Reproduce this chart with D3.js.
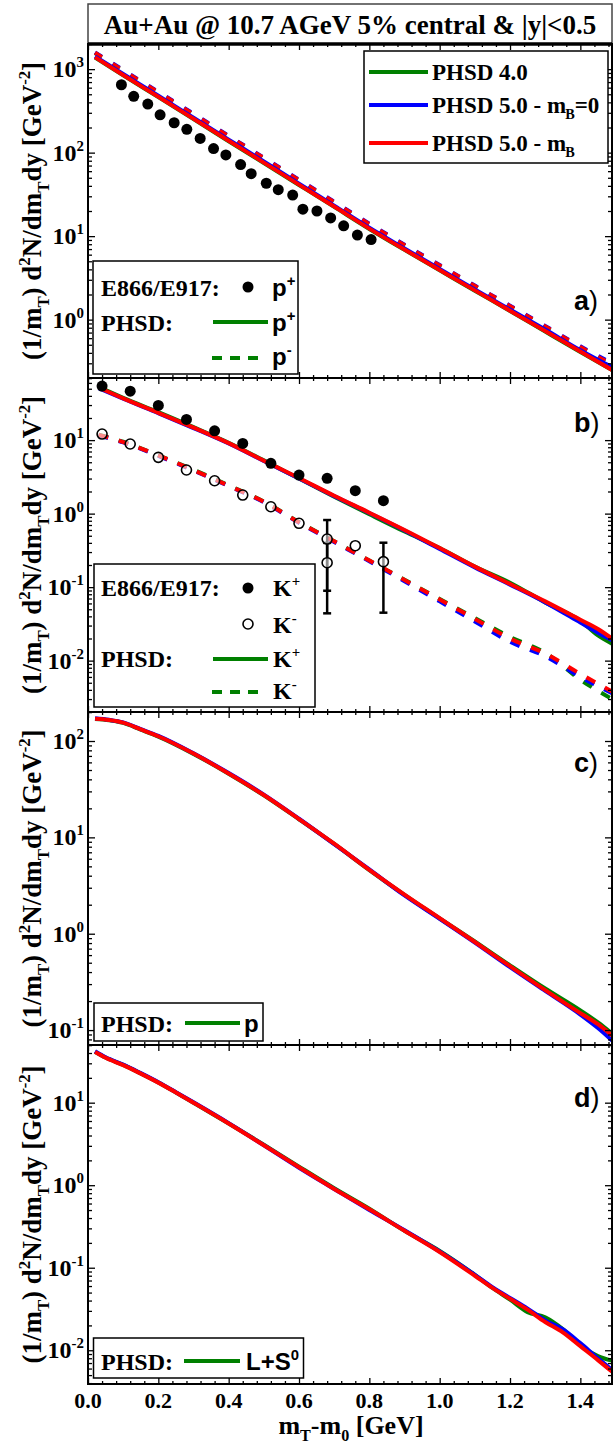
<!DOCTYPE html>
<html>
<head>
<meta charset="utf-8">
<script src="https://cdn.jsdelivr.net/npm/d3@7"></script>
<style>
  body { margin: 0; background: #fff; }
  svg { display: block; }
  text { font-family: "Liberation Serif", "Times New Roman", serif; font-weight: bold; fill: #000; }
  text.sans { font-family: "Liberation Sans", Arial, sans-serif; }
</style>
</head>
<body>
<svg id="chart" width="614" height="1444"></svg>
<script>
// ---------- x axis ----------
const xMajorTicks = [0, 0.2, 0.4, 0.6, 0.8, 1.0, 1.2, 1.4];
const xTickLabels = ["0.0", "0.2", "0.4", "0.6", "0.8", "1.0", "1.2", "1.4"];

// ---------- (a) protons ----------
const protonDataMt = [0.095, 0.130, 0.170, 0.205, 0.245, 0.281, 0.319, 0.357, 0.392, 0.434,
                      0.464, 0.507, 0.541, 0.582, 0.611, 0.651, 0.690, 0.727, 0.766, 0.805];
const protonData   = [650, 472, 382, 284, 228, 190, 148, 112, 94, 72,
                      56, 43, 36, 31, 21, 20, 16.5, 13.3, 10.3, 9.1];
const protonMt     = [0.02, 0.1, 0.2, 0.3, 0.4, 0.5, 0.6, 0.7, 0.8, 0.9, 1.0, 1.1, 1.2, 1.3, 1.4, 1.49];
const protonPHSD4  = [1380, 845, 462, 252, 137, 75, 41, 22.4, 12.2, 6.85, 3.9, 2.22, 1.27, 0.72, 0.41, 0.25];
const protonPHSD5m0 = [1420, 875, 480, 262, 143, 78.5, 42.5, 23.2, 12.6, 7.1, 4.05, 2.3, 1.32, 0.76, 0.43, 0.27];
const protonPHSD5mB = [1390, 850, 467, 255, 139, 76, 41.4, 22.6, 12.3, 6.9, 3.93, 2.24, 1.28, 0.73, 0.415, 0.25];
const pbarPHSD4    = [1560, 955, 525, 286, 156, 85, 46.5, 25.3, 13.8, 7.75, 4.4, 2.5, 1.44, 0.82, 0.46, 0.285];
const pbarPHSD5m0  = [1590, 975, 535, 292, 159, 87, 47.5, 25.9, 14.1, 7.9, 4.5, 2.56, 1.47, 0.84, 0.48, 0.3];
const pbarPHSD5mB  = [1570, 960, 528, 288, 157, 86, 46.8, 25.5, 13.9, 7.8, 4.44, 2.53, 1.45, 0.83, 0.47, 0.29];

// ---------- (b) kaons ----------
const kPlusDataMt  = [0.04, 0.12, 0.20, 0.28, 0.36, 0.44, 0.52, 0.60, 0.68, 0.76, 0.84];
const kPlusData    = [54.4, 46.4, 29.6, 19.1, 13.4, 9.0, 4.83, 3.35, 3.02, 2.05, 1.50];
const kMinusDataMt = [0.04, 0.12, 0.20, 0.28, 0.36, 0.44, 0.52, 0.60, 0.68, 0.68, 0.76, 0.84];
const kMinusData   = [12.1, 8.85, 5.83, 3.92, 2.80, 1.79, 1.24, 0.738, 0.451, 0.215, 0.366, 0.222];
const kMinusErrLow = [null, null, null, null, null, null, null, null, 0.0893, 0.044, null, 0.0449];
const kMinusErrHigh = [null, null, null, null, null, null, null, null, 0.818, 0.40, null, 0.402];
const kPlusMt      = [0.03, 0.1, 0.2, 0.3, 0.4, 0.5, 0.6, 0.7, 0.8, 0.9, 1.0, 1.1, 1.2, 1.3, 1.4, 1.45, 1.49];
const kPlusPHSD4   = [53, 37.5, 24, 15, 9.2, 5.3, 3.0, 1.7, 0.98, 0.57, 0.34, 0.19, 0.115, 0.062, 0.035, 0.022, 0.017];
const kPlusPHSD5m0 = [51, 36.5, 23.2, 14.6, 9.0, 5.2, 3.0, 1.73, 1.02, 0.59, 0.33, 0.185, 0.108, 0.062, 0.033, 0.024, 0.019];
const kPlusPHSD5mB = [52, 37, 23.5, 14.8, 9.1, 5.25, 3.05, 1.75, 1.03, 0.6, 0.34, 0.19, 0.11, 0.064, 0.036, 0.027, 0.02];
const kMinusMt     = [0.03, 0.1, 0.2, 0.3, 0.4, 0.5, 0.6, 0.7, 0.8, 0.9, 1.0, 1.1, 1.2, 1.3, 1.4, 1.49];
const kMinusPHSD4  = [11.9, 9.5, 6.2, 3.95, 2.42, 1.46, 0.77, 0.42, 0.23, 0.126, 0.069, 0.038, 0.021, 0.0128, 0.0055, 0.003];
const kMinusPHSD5m0 = [11.6, 9.3, 6.1, 3.85, 2.37, 1.43, 0.75, 0.41, 0.225, 0.12, 0.064, 0.034, 0.018, 0.0115, 0.006, 0.0036];
const kMinusPHSD5mB = [11.8, 9.4, 6.2, 3.9, 2.4, 1.45, 0.76, 0.42, 0.23, 0.125, 0.068, 0.037, 0.02, 0.0125, 0.0066, 0.0038];

// ---------- (c) protons, PHSD only ----------
const pMt       = [0.02, 0.06, 0.1, 0.15, 0.2, 0.3, 0.4, 0.5, 0.6, 0.7, 0.8, 0.9, 1.0, 1.1, 1.2, 1.3, 1.4, 1.45, 1.49];
const pPHSD4    = [169, 164, 154, 131, 111, 73.5, 45.8, 27.3, 15.4, 8.55, 4.58, 2.53, 1.44, 0.83, 0.47, 0.27, 0.16, 0.12, 0.092];
const pPHSD5m0  = [172, 166, 156, 133, 113, 74.5, 46.5, 27.8, 15.6, 8.5, 4.65, 2.5, 1.43, 0.81, 0.45, 0.255, 0.145, 0.105, 0.078];
const pPHSD5mB  = [170, 165, 155, 132, 112, 74, 46, 27.5, 15.5, 8.6, 4.6, 2.55, 1.45, 0.82, 0.46, 0.26, 0.15, 0.115, 0.088];

// ---------- (d) Lambda + Sigma0, PHSD only ----------
const lamMt      = [0.02, 0.05, 0.1, 0.15, 0.2, 0.25, 0.3, 0.4, 0.5, 0.6, 0.7, 0.8, 0.9, 1.0, 1.1, 1.15, 1.2, 1.25, 1.3, 1.35, 1.4, 1.45, 1.49];
const lamPHSD4   = [41.5, 35.2, 28.7, 22.6, 17.6, 13.3, 10, 5.6, 3.1, 1.68, 0.92, 0.52, 0.28, 0.16, 0.082, 0.057, 0.041, 0.029, 0.025, 0.018, 0.0115, 0.0085, 0.0075];
const lamPHSD5m0 = [42, 35.5, 29, 22.8, 17.7, 13.4, 10.1, 5.65, 3.05, 1.63, 0.9, 0.5, 0.285, 0.157, 0.082, 0.058, 0.043, 0.032, 0.023, 0.018, 0.0122, 0.008, 0.0058];
const lamPHSD5mB = [41, 35, 28.5, 22.5, 17.5, 13.3, 10, 5.6, 3.05, 1.65, 0.9, 0.51, 0.28, 0.155, 0.08, 0.057, 0.042, 0.031, 0.022, 0.0165, 0.0112, 0.0076, 0.0055];

// ---------- styling / layout ----------
const GREEN = "#008000", BLUE = "#0000ff", RED = "#ff0000";
const LEFT = 88, RIGHT = 612;
const svg = d3.select("#chart");
const x = d3.scaleLinear().domain([0, 1.49]).range([LEFT, RIGHT]);

const panels = [
  { key: "a", top: 44,   bottom: 378,  domain: [0.2, 2000],   decades: [0, 1, 2, 3],     tag: 310 },
  { key: "b", top: 378,  bottom: 712,  domain: [0.002, 70],   decades: [-2, -1, 0, 1],   tag: 432 },
  { key: "c", top: 712,  bottom: 1045, domain: [0.07, 200],   decades: [-1, 0, 1, 2],    tag: 772 },
  { key: "d", top: 1045, bottom: 1384, domain: [0.0039, 50],  decades: [-2, -1, 0, 1],   tag: 1107 }
];
panels.forEach(p => {
  p.y = d3.scaleLog().domain(p.domain).range([p.bottom, p.top]);
});

// rich text helper: parts = [[text, "n" | "sup" | "sub", dx?], ...]
function rich(sel, parts, size) {
  let shift = 0;
  parts.forEach(([t, k, dx]) => {
    const target = k === "sup" ? -0.42 * size : k === "sub" ? 0.28 * size : 0;
    const ts = sel.append("tspan").text(t).attr("dy", target - shift);
    if (dx) ts.attr("dx", dx);
    if (k !== "n") ts.attr("font-size", size * 0.62);
    shift = target;
  });
  return sel;
}

// title
svg.append("rect").attr("x", LEFT).attr("y", 4).attr("width", RIGHT - LEFT).attr("height", 40)
  .attr("fill", "#fff").attr("stroke", "#444").attr("stroke-width", 1.5);
svg.append("text").attr("x", (LEFT + RIGHT) / 2).attr("y", 34).attr("text-anchor", "middle")
  .attr("font-size", 27).text("Au+Au @ 10.7 AGeV 5% central & |y|<0.5");

const xMinor = d3.range(0, 1.49, 0.04).filter(v => !xMajorTicks.some(m => Math.abs(m - v) < 1e-6));

const line = (p) => d3.line().x(d => x(d[0])).y(d => p.y(d[1])).curve(d3.curveMonotoneX);

panels.forEach((p, i) => {
  const g = svg.append("g");
  const clipId = "clip-" + p.key;
  svg.append("clipPath").attr("id", clipId).append("rect")
    .attr("x", LEFT).attr("y", p.top).attr("width", RIGHT - LEFT).attr("height", p.bottom - p.top);
  p.g = g;
  p.plot = g.append("g").attr("clip-path", `url(#${clipId})`);

  // x ticks top & bottom, pointing inward
  const axes = [
    [d3.axisBottom(x), p.bottom, -6, -3],
    [d3.axisTop(x), p.top, -6, -3]
  ];
  axes.forEach(([ax, yy, big, small]) => {
    g.append("g").attr("transform", `translate(0,${yy})`)
      .call(ax.tickValues(xMajorTicks).tickSize(big).tickFormat(""))
      .call(s => s.select(".domain").remove());
    g.append("g").attr("transform", `translate(0,${yy})`)
      .call(ax.tickValues(xMinor).tickSize(small).tickFormat(""))
      .call(s => s.select(".domain").remove());
  });

  // y ticks left & right
  const yMajor = p.decades.map(d => Math.pow(10, d));
  const yMinor = [];
  for (let d = p.decades[0] - 1; d <= p.decades[p.decades.length - 1]; d++) {
    for (let m = 2; m <= 9; m++) {
      const v = m * Math.pow(10, d);
      if (v >= p.domain[0] && v <= p.domain[1]) yMinor.push(v);
    }
  }
  [[d3.axisLeft(p.y), LEFT], [d3.axisRight(p.y), RIGHT]].forEach(([ax, xx]) => {
    g.append("g").attr("transform", `translate(${xx},0)`)
      .call(ax.tickValues(yMajor).tickSize(-7).tickFormat(""))
      .call(s => s.select(".domain").remove());
    g.append("g").attr("transform", `translate(${xx},0)`)
      .call(ax.tickValues(yMinor).tickSize(-4).tickFormat(""))
      .call(s => s.select(".domain").remove());
  });
  g.selectAll(".tick line").attr("stroke", "#000").attr("stroke-width", 1.3);

  // y tick labels 10^n
  p.decades.forEach(d => {
    const t = g.append("text").attr("x", 84).attr("y", p.y(Math.pow(10, d)) + 8)
      .attr("text-anchor", "end").attr("font-size", 24);
    rich(t, [["10", "n"], [String(d), "sup"]], 24);
  });

  // y axis title
  const yt = g.append("text").attr("font-size", 27).attr("text-anchor", "middle")
    .attr("transform", `translate(41,${(p.top + p.bottom) / 2}) rotate(-90)`);
  rich(yt, [["(1/m", "n"], ["T", "sub"], [") d", "n"], ["2", "sup"], ["N/dm", "n"], ["T", "sub"],
            ["dy [GeV", "n"], ["-2", "sup"], ["]", "n"]], 27);

  // panel tag
  const tg = g.append("text").attr("class", "sans").attr("x", 574).attr("y", p.tag).attr("font-size", 27);
  tg.append("tspan").text(p.key);
  tg.append("tspan").attr("font-weight", "normal").text(")");
});

function drawCurve(p, xs, ys, color, dash) {
  p.plot.append("path").datum(d3.zip(xs, ys))
    .attr("d", line(p)).attr("fill", "none").attr("stroke", color).attr("stroke-width", 4)
    .attr("stroke-dasharray", dash || null);
}

// ---- panel a ----
const pa = panels[0];
const dashA = "8,13";
drawCurve(pa, protonMt, pbarPHSD4, GREEN, dashA);
drawCurve(pa, protonMt, pbarPHSD5m0, BLUE, dashA);
drawCurve(pa, protonMt, pbarPHSD5mB, RED, dashA);
drawCurve(pa, protonMt, protonPHSD4, GREEN);
drawCurve(pa, protonMt, protonPHSD5m0, BLUE);
drawCurve(pa, protonMt, protonPHSD5mB, RED);
pa.plot.selectAll("circle.pd").data(d3.zip(protonDataMt, protonData)).join("circle")
  .attr("cx", d => x(d[0])).attr("cy", d => pa.y(d[1])).attr("r", 5.5).attr("fill", "#000");

// ---- panel b ----
const pb = panels[1];
const dashB = "10,11";
drawCurve(pb, kMinusMt, kMinusPHSD4, GREEN, dashB);
drawCurve(pb, kMinusMt, kMinusPHSD5m0, BLUE, dashB);
drawCurve(pb, kMinusMt, kMinusPHSD5mB, RED, dashB);
drawCurve(pb, kPlusMt, kPlusPHSD4, GREEN);
drawCurve(pb, kPlusMt, kPlusPHSD5m0, BLUE);
drawCurve(pb, kPlusMt, kPlusPHSD5mB, RED);
const errs = kMinusDataMt.map((m, i) => [m, kMinusErrLow[i], kMinusErrHigh[i]]).filter(d => d[1] != null);
errs.forEach(([m, lo, hi]) => {
  const eg = pb.plot.append("g").attr("stroke", "#000").attr("stroke-width", 2.5);
  eg.append("line").attr("x1", x(m)).attr("x2", x(m)).attr("y1", pb.y(lo)).attr("y2", pb.y(hi));
  [lo, hi].forEach(v => eg.append("line").attr("x1", x(m) - 4).attr("x2", x(m) + 4)
    .attr("y1", pb.y(v)).attr("y2", pb.y(v)));
});
pb.plot.selectAll("circle.kp").data(d3.zip(kPlusDataMt, kPlusData)).join("circle")
  .attr("cx", d => x(d[0])).attr("cy", d => pb.y(d[1])).attr("r", 5.5).attr("fill", "#000");
pb.plot.selectAll("circle.km").data(d3.zip(kMinusDataMt, kMinusData)).enter().append("circle")
  .attr("cx", d => x(d[0])).attr("cy", d => pb.y(d[1])).attr("r", 5)
  .attr("fill", "#fff").attr("fill-opacity", 0.55).attr("stroke", "#000").attr("stroke-width", 1.6);

// ---- panel c ----
const pc = panels[2];
drawCurve(pc, pMt, pPHSD4, GREEN);
drawCurve(pc, pMt, pPHSD5m0, BLUE);
drawCurve(pc, pMt, pPHSD5mB, RED);

// ---- panel d ----
const pd = panels[3];
drawCurve(pd, lamMt, lamPHSD4, GREEN);
drawCurve(pd, lamMt, lamPHSD5m0, BLUE);
drawCurve(pd, lamMt, lamPHSD5mB, RED);

// ---- legends ----
function box(x0, y0, w, h) {
  svg.append("rect").attr("x", x0).attr("y", y0).attr("width", w).attr("height", h)
    .attr("fill", "#fff").attr("stroke", "#000").attr("stroke-width", 1.5);
}
function legLine(x1, x2, yy, color, dash) {
  svg.append("line").attr("x1", x1).attr("x2", x2).attr("y1", yy).attr("y2", yy)
    .attr("stroke", color).attr("stroke-width", 4).attr("stroke-dasharray", dash || null);
}
function label(x0, y0, parts, size, cls) {
  const t = svg.append("text").attr("x", x0).attr("y", y0).attr("font-size", size);
  if (cls) t.attr("class", cls);
  return rich(t, parts, size);
}

// model legend (panel a, upper right)
box(364, 51, 244, 112);
[[GREEN, 72, [["PHSD 4.0", "n"]]],
 [BLUE, 105, [["PHSD 5.0 - m", "n"], ["B", "sub", -1], ["=0", "n"]]],
 [RED, 143, [["PHSD 5.0 - m", "n"], ["B", "sub", -1]]]].forEach(([c, yy, parts]) => {
  legLine(369, 428, yy, c);
  label(432, yy + 8, parts, 23);
});

// panel a, lower left
box(93, 261, 205, 113);
label(101, 296, [["E866/E917:", "n"]], 24);
svg.append("circle").attr("cx", 248).attr("cy", 287).attr("r", 5.5).attr("fill", "#000");
label(272, 296, [["p", "n"], ["+", "sup"]], 24, "sans");
label(101, 331, [["PHSD:", "n"]], 24);
legLine(213, 268, 322, GREEN);
label(272, 331, [["p", "n"], ["+", "sup"]], 24, "sans");
legLine(212, 266, 358, GREEN, "10,8");
label(272, 365, [["p", "n"], ["-", "sup"]], 24, "sans");

// panel b, lower left
box(94, 564, 221, 143);
label(101, 596, [["E866/E917:", "n"]], 24);
svg.append("circle").attr("cx", 248).attr("cy", 588).attr("r", 5.5).attr("fill", "#000");
label(273, 596, [["K", "n"], ["+", "sup"]], 24);
svg.append("circle").attr("cx", 248).attr("cy", 624).attr("r", 5).attr("fill", "#fff")
  .attr("stroke", "#000").attr("stroke-width", 1.6);
label(273, 633, [["K", "n"], ["-", "sup"]], 24);
label(101, 667, [["PHSD:", "n"]], 24);
legLine(213, 268, 659, GREEN);
label(273, 667, [["K", "n"], ["+", "sup"]], 24);
legLine(212, 266, 692, GREEN, "10,8");
label(273, 699, [["K", "n"], ["-", "sup"]], 24);

// panel c
box(94, 1003, 169, 38);
label(101, 1032, [["PHSD:", "n"]], 24);
legLine(185, 240, 1023, GREEN);
label(244, 1032, [["p", "n"]], 24, "sans");

// panel d
box(93.5, 1338, 210, 40);
label(101, 1370, [["PHSD:", "n"]], 24);
legLine(184, 240, 1361, GREEN);
label(246, 1370, [["L+S", "n"], ["0", "sup"]], 24, "sans");

// panel frames (drawn last so they sit on top)
panels.forEach(p => {
  svg.append("rect").attr("x", LEFT).attr("y", p.top).attr("width", RIGHT - LEFT)
    .attr("height", p.bottom - p.top).attr("fill", "none").attr("stroke", "#000").attr("stroke-width", 2);
});
svg.append("line").attr("x1", LEFT).attr("x2", RIGHT).attr("y1", 44).attr("y2", 44)
  .attr("stroke", "#000").attr("stroke-width", 3.5);

// x tick labels and title
const lastP = panels[3];
svg.selectAll("text.xt").data(d3.zip(xMajorTicks, xTickLabels)).enter().append("text")
  .attr("x", d => x(d[0])).attr("y", lastP.bottom + 24).attr("text-anchor", "middle")
  .attr("font-size", 22).text(d => d[1]);
const xt = svg.append("text").attr("x", 351).attr("y", lastP.bottom + 50)
  .attr("text-anchor", "middle").attr("font-size", 26);
rich(xt, [["m", "n"], ["T", "sub"], ["-m", "n"], ["0", "sub"], [" [GeV]", "n"]], 26);
</script>
</body>
</html>
